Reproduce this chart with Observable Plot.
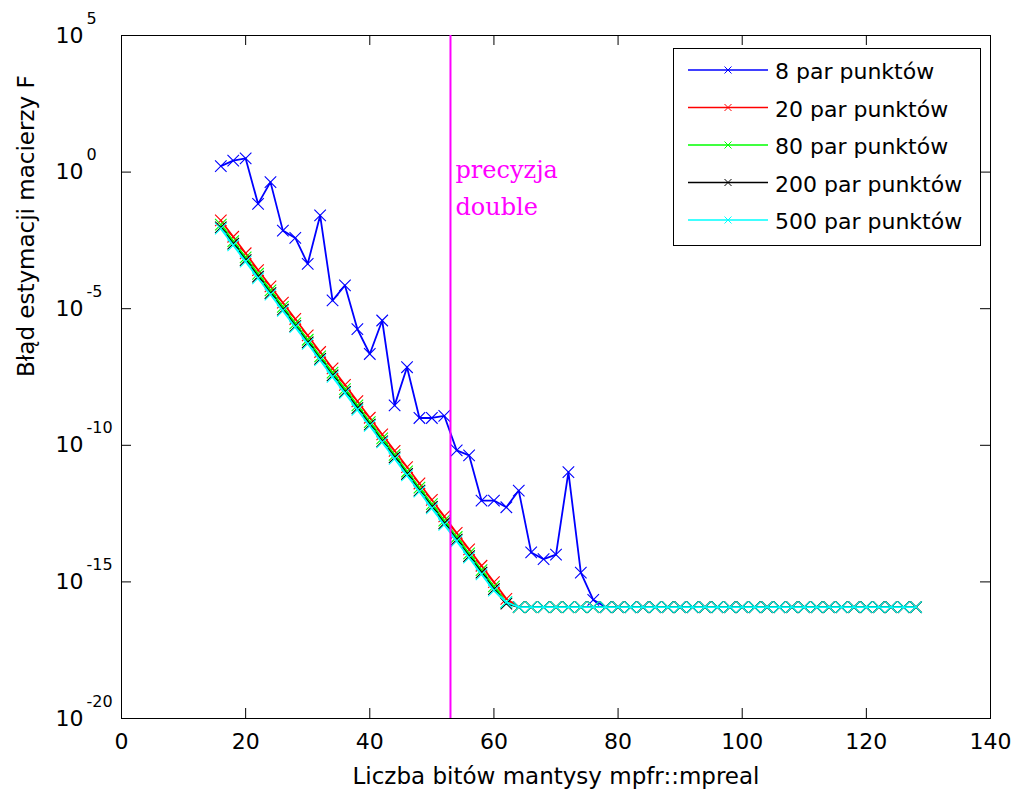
<!DOCTYPE html>
<html><head><meta charset="utf-8">
<script src="https://cdn.jsdelivr.net/npm/d3@7"></script>
<script src="https://cdn.jsdelivr.net/npm/@observablehq/plot@0.6"></script>
<style>
body{margin:0;background:#fff;}
#wrap{position:relative;width:1013px;height:790px;background:#fff;}
#wrap svg{display:block;}
#legend{position:absolute;left:0;top:0;pointer-events:none;}
</style></head><body><div id="wrap"></div>
<script>
// ---- data ----
const bits = [16,18,20,22,24,26,28,30,32,34,36,38,40,42,44,46,48,50,52,54,56,58,60,62,64,66,68,70,72,74,76,78,80,82,84,86,88,90,92,94,96,98,100,102,104,106,108,110,112,114,116,118,120,122,124,126,128];

const err8 = [1.66, 2.63, 3.16, 0.069, 0.43, 7.2e-3, 3.9e-3, 4.4e-4, 2.6e-2, 2.0e-5, 7.1e-5, 1.8e-6, 2.2e-7, 3.7e-6, 2.9e-9, 7.2e-8, 1.0e-9, 1.0e-9, 1.2e-9, 6.5e-11, 4.3e-11, 9.5e-13, 9.5e-13, 5.4e-13, 2.2e-12, 1.2e-14, 6.8e-15, 1.0e-14, 1.05e-11, 2.2e-15, 2.2e-16,
  1.2e-16, 1.2e-16, 1.2e-16, 1.2e-16, 1.2e-16, 1.2e-16, 1.2e-16, 1.2e-16, 1.2e-16, 1.2e-16, 1.2e-16, 1.2e-16, 1.2e-16,
  1.2e-16, 1.2e-16, 1.2e-16, 1.2e-16, 1.2e-16, 1.2e-16, 1.2e-16, 1.2e-16, 1.2e-16, 1.2e-16, 1.2e-16, 1.2e-16, 1.2e-16];

const err20 = [1.7e-2, 4.3e-3, 1.07e-3, 2.6e-4, 6.6e-5, 1.66e-5, 4.2e-6, 1.05e-6, 2.6e-7, 6.5e-8, 1.63e-8, 4.1e-9, 1.02e-9, 2.5e-10, 6.3e-11, 1.6e-11, 4.0e-12, 1.0e-12, 2.5e-13, 6.2e-14, 1.55e-14, 3.9e-15, 9.8e-16, 2.4e-16,
  1.2e-16, 1.2e-16, 1.2e-16, 1.2e-16, 1.2e-16, 1.2e-16, 1.2e-16, 1.2e-16, 1.2e-16, 1.2e-16, 1.2e-16,
  1.2e-16, 1.2e-16, 1.2e-16, 1.2e-16, 1.2e-16, 1.2e-16, 1.2e-16, 1.2e-16, 1.2e-16, 1.2e-16, 1.2e-16,
  1.2e-16, 1.2e-16, 1.2e-16, 1.2e-16, 1.2e-16, 1.2e-16, 1.2e-16, 1.2e-16, 1.2e-16, 1.2e-16, 1.2e-16];

const err80 = [1.2e-2, 3.0e-3, 7.5e-4, 1.9e-4, 4.7e-5, 1.17e-5, 2.9e-6, 7.3e-7, 1.8e-7, 4.6e-8, 1.14e-8, 2.9e-9, 7.1e-10, 1.8e-10, 4.5e-11, 1.1e-11, 2.8e-12, 7.0e-13, 1.75e-13, 4.4e-14, 1.1e-14, 2.7e-15, 6.8e-16, 1.8e-16,
  1.2e-16, 1.2e-16, 1.2e-16, 1.2e-16, 1.2e-16, 1.2e-16, 1.2e-16, 1.2e-16, 1.2e-16, 1.2e-16, 1.2e-16,
  1.2e-16, 1.2e-16, 1.2e-16, 1.2e-16, 1.2e-16, 1.2e-16, 1.2e-16, 1.2e-16, 1.2e-16, 1.2e-16, 1.2e-16,
  1.2e-16, 1.2e-16, 1.2e-16, 1.2e-16, 1.2e-16, 1.2e-16, 1.2e-16, 1.2e-16, 1.2e-16, 1.2e-16, 1.2e-16];

const err200 = [9.5e-3, 2.4e-3, 6.0e-4, 1.5e-4, 3.7e-5, 9.3e-6, 2.3e-6, 5.8e-7, 1.45e-7, 3.6e-8, 9.1e-9, 2.3e-9, 5.7e-10, 1.4e-10, 3.6e-11, 8.9e-12, 2.2e-12, 5.6e-13, 1.4e-13, 3.5e-14, 8.7e-15, 2.2e-15, 5.4e-16, 1.6e-16,
  1.2e-16, 1.2e-16, 1.2e-16, 1.2e-16, 1.2e-16, 1.2e-16, 1.2e-16, 1.2e-16, 1.2e-16, 1.2e-16, 1.2e-16,
  1.2e-16, 1.2e-16, 1.2e-16, 1.2e-16, 1.2e-16, 1.2e-16, 1.2e-16, 1.2e-16, 1.2e-16, 1.2e-16, 1.2e-16,
  1.2e-16, 1.2e-16, 1.2e-16, 1.2e-16, 1.2e-16, 1.2e-16, 1.2e-16, 1.2e-16, 1.2e-16, 1.2e-16, 1.2e-16];

const err500 = [8.5e-3, 2.1e-3, 5.3e-4, 1.3e-4, 3.3e-5, 8.3e-6, 2.1e-6, 5.2e-7, 1.3e-7, 3.2e-8, 8.1e-9, 2.0e-9, 5.1e-10, 1.27e-10, 3.2e-11, 7.9e-12, 2.0e-12, 4.9e-13, 1.23e-13, 3.1e-14, 7.7e-15, 1.9e-15, 4.8e-16, 1.8e-16,
  1.2e-16, 1.2e-16, 1.2e-16, 1.2e-16, 1.2e-16, 1.2e-16, 1.2e-16, 1.2e-16, 1.2e-16, 1.2e-16, 1.2e-16,
  1.2e-16, 1.2e-16, 1.2e-16, 1.2e-16, 1.2e-16, 1.2e-16, 1.2e-16, 1.2e-16, 1.2e-16, 1.2e-16, 1.2e-16,
  1.2e-16, 1.2e-16, 1.2e-16, 1.2e-16, 1.2e-16, 1.2e-16, 1.2e-16, 1.2e-16, 1.2e-16, 1.2e-16, 1.2e-16];

const seriesNames = ["8 par punktów", "20 par punktów", "80 par punktów", "200 par punktów", "500 par punktów"];
const seriesValues = [err8, err20, err80, err200, err500];
const seriesColors = ["#0000ff", "#ff0000", "#00ff00", "#000000", "#00ffff"];

const xTicks = [0, 20, 40, 60, 80, 100, 120, 140];
const yTickExponents = [-20, -15, -10, -5, 0, 5];
const doublePrecisionBits = 53;
const annotationText = "precyzja\ndouble";
const xLabel = "Liczba bitów mantysy mpfr::mpreal";
const yLabel = "Błąd estymacji macierzy F";

// ---- layout ----
const W = 1013, H = 790;
const mL = 121, mR = 23, mT = 35, mB = 72;
const fw = W - mL - mR, fh = H - mT - mB;
const tick = 10;
const sans = "DejaVu Sans";

const yTicks = yTickExponents.map(e => Math.pow(10, e));

const seriesMarks = [];
seriesNames.forEach((name, k) => {
  const rows = bits.map((b, i) => ({bits: b, err: seriesValues[k][i]}));
  seriesMarks.push(Plot.line(rows, {x: "bits", y: "err", stroke: seriesColors[k], strokeWidth: 1.8}));
  seriesMarks.push(Plot.dot(rows, {x: "bits", y: "err", symbol: "times", r: 5.3, stroke: seriesColors[k], strokeWidth: 1.1}));
});

const chart = Plot.plot({
  width: W, height: H,
  marginLeft: mL, marginRight: mR, marginTop: mT, marginBottom: mB,
  x: {domain: [0, 140], axis: null},
  y: {type: "log", domain: [1e-20, 1e5], axis: null},
  style: {fontFamily: sans, background: "white", color: "black", overflow: "visible"},
  marks: [
    Plot.frame({stroke: "black", strokeWidth: 1}),
    // inward ticks
    Plot.ruleX(xTicks, {x: d => d, insetTop: fh - tick, stroke: "black"}),
    Plot.ruleX(xTicks, {x: d => d, insetBottom: fh - tick, stroke: "black"}),
    Plot.ruleY(yTicks, {y: d => d, insetRight: fw - tick, stroke: "black"}),
    Plot.ruleY(yTicks, {y: d => d, insetLeft: fw - tick, stroke: "black"}),
    // tick labels
    Plot.text(xTicks, {x: d => d, frameAnchor: "bottom", dy: 23, text: d => String(d), fontSize: 22, lineAnchor: "middle"}),
    Plot.text(yTicks, {y: d => d, frameAnchor: "left", dx: -66, textAnchor: "start", lineAnchor: "middle", text: () => "10", fontSize: 22}),
    Plot.text(yTickExponents, {y: e => Math.pow(10, e), frameAnchor: "left", dx: -35, dy: -17, textAnchor: "start", lineAnchor: "middle", text: e => String(e), fontSize: 16}),
    // axis labels
    Plot.text([xLabel], {frameAnchor: "bottom", dy: 58, text: d => d, fontSize: 23, lineAnchor: "middle"}),
    Plot.text([yLabel], {frameAnchor: "left", dx: -95, rotate: -90, text: d => d, fontSize: 23, lineAnchor: "middle"}),
    // series
    ...seriesMarks,
    // double precision marker
    Plot.ruleX([doublePrecisionBits], {x: d => d, stroke: "#ff00ff", strokeWidth: 2}),
    Plot.text([doublePrecisionBits], {x: d => d, frameAnchor: "top", dx: 5, dy: 116, text: () => annotationText,
      textAnchor: "start", lineAnchor: "top", lineHeight: 1.55, fontSize: 24, fontFamily: "DejaVu Serif", fill: "#ff00ff"})
  ]
});

const wrap = document.getElementById("wrap");
wrap.appendChild(chart);

// ---- legend (inside the axes, top-right) ----
const lg = d3.select(wrap).append("svg").attr("id", "legend").attr("width", W).attr("height", H);
const lx = 673, ly = 48, lw = 307, lh = 197, step = 37.5, firstY = 70;
lg.append("rect").attr("x", lx + 0.5).attr("y", ly + 0.5).attr("width", lw).attr("height", lh)
  .attr("fill", "white").attr("stroke", "black").attr("stroke-width", 1);
seriesNames.forEach((name, k) => {
  const yy = firstY + k * step;
  lg.append("line").attr("x1", 688).attr("x2", 768).attr("y1", yy).attr("y2", yy)
    .attr("stroke", seriesColors[k]).attr("stroke-width", 1.6);
  const s = 3.5, cx = 728;
  lg.append("path").attr("d", `M${cx - s},${yy - s}L${cx + s},${yy + s}M${cx - s},${yy + s}L${cx + s},${yy - s}`)
    .attr("stroke", seriesColors[k]).attr("stroke-width", 1).attr("fill", "none");
  lg.append("text").attr("x", 775).attr("y", yy + 9).attr("font-family", sans).attr("font-size", 22)
    .attr("fill", "black").text(name);
});
</script>
</body></html>
